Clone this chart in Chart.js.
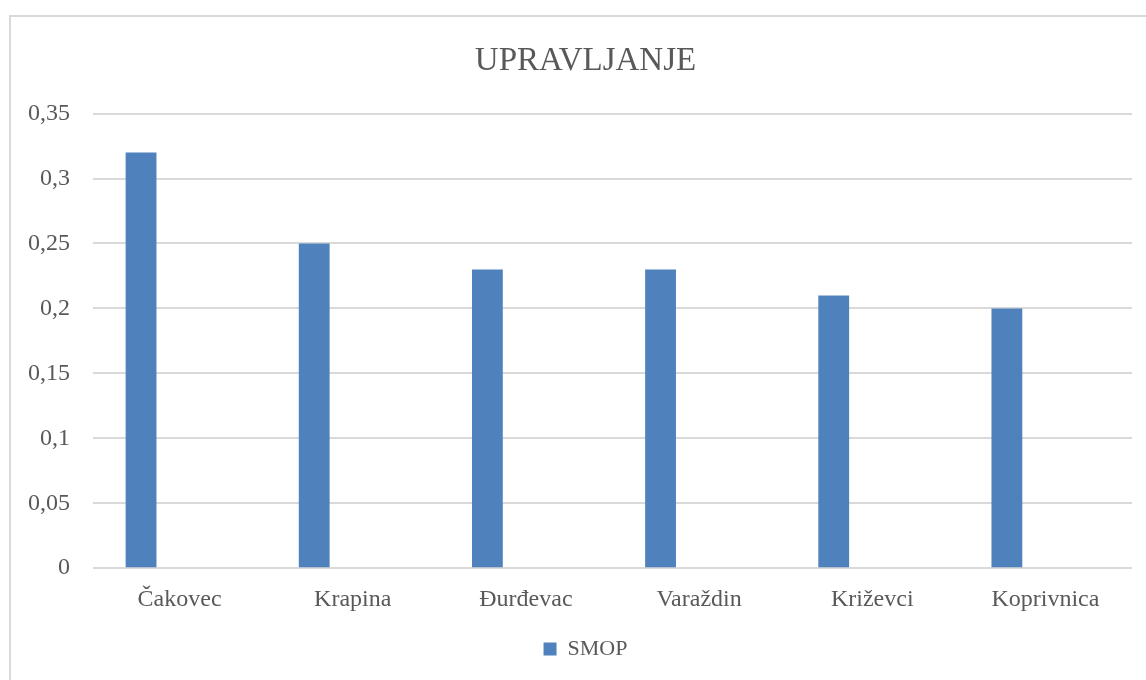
<!DOCTYPE html>
<html>
<head>
<meta charset="utf-8">
<script src="https://cdn.jsdelivr.net/npm/chart.js@4/dist/chart.umd.min.js"></script>
<style>
    html, body { margin: 0; padding: 0; background: #fff; overflow: hidden; }
    #wrap { position: relative; width: 1146px; height: 680px; overflow: hidden; }
    #frame { position: absolute; left: 9px; top: 15px; width: 1200px; height: 700px; border: 2px solid #d9d9d9; }
    #chart { position: absolute; left: 0; top: 0; }
</style>
</head>
<body>
<div id="wrap">
    <div id="frame"></div>
    <canvas id="chart" width="1171" height="680"></canvas>
</div>
<script>
var TITLE = 'UPRAVLJANJE';
var CATEGORIES = ['Čakovec', 'Krapina', 'Đurđevac', 'Varaždin', 'Križevci', 'Koprivnica'];
var SMOP = [0.32, 0.25, 0.23, 0.23, 0.21, 0.20];
var EMPTY = [null, null, null, null, null, null];
var Y_MAX = 0.35;
var Y_STEP = 0.05;

var TEXT = '#595959';
var FONT = 'Liberation Serif';

function comma(v) {
    return Number(v.toFixed(2)).toString().replace('.', ',');
}

// title and legend are centred on the whole chart frame, not on the plot
var shiftBlocks = {
    id: 'shiftBlocks',
    afterLayout: function (chart) {
        var d = 19.5;
        [chart.titleBlock, chart.legend].forEach(function (b) {
            if (b) { b.left += d; b.right += d; }
        });
    }
};

var ctx = document.getElementById('chart').getContext('2d');
var chart = new Chart(ctx, {
    type: 'bar',
    data: {
        labels: CATEGORIES,
        datasets: [{
            label: 'SMOP',
            data: SMOP,
            backgroundColor: '#4f81bd',
            categoryPercentage: 0.89,
            barPercentage: 0.40
        }, {
            label: '',
            data: EMPTY,
            backgroundColor: '#c0504d',
            categoryPercentage: 0.89,
            barPercentage: 0.40
        }]
    },
    options: {
        responsive: false,
        animation: false,
        layout: { padding: { left: 0, right: 39, top: 0, bottom: 10 } },
        plugins: {
            title: {
                display: true,
                text: TITLE,
                color: TEXT,
                font: { family: FONT, size: 33, weight: 'normal' },
                padding: { top: 42, bottom: 32 }
            },
            legend: {
                position: 'bottom',
                labels: {
                    color: TEXT,
                    font: { family: FONT, size: 22 },
                    boxWidth: 13,
                    boxHeight: 13,
                    padding: 15,
                    filter: function (item) { return item.text !== ''; }
                }
            },
            tooltip: { enabled: false }
        },
        scales: {
            x: {
                grid: { display: false },
                border: { display: false },
                ticks: {
                    color: TEXT,
                    font: { family: FONT, size: 24 },
                    padding: 9
                }
            },
            y: {
                min: 0,
                max: Y_MAX,
                afterFit: function (scale) { scale.width = 93; },
                grid: { color: '#d9d9d9', lineWidth: 2, drawTicks: false },
                border: { display: false },
                ticks: {
                    stepSize: Y_STEP,
                    color: TEXT,
                    font: { family: FONT, size: 24 },
                    padding: 23,
                    callback: function (v) { return comma(v); }
                }
            }
        }
    },
    plugins: [shiftBlocks]
});
</script>
</body>
</html>
